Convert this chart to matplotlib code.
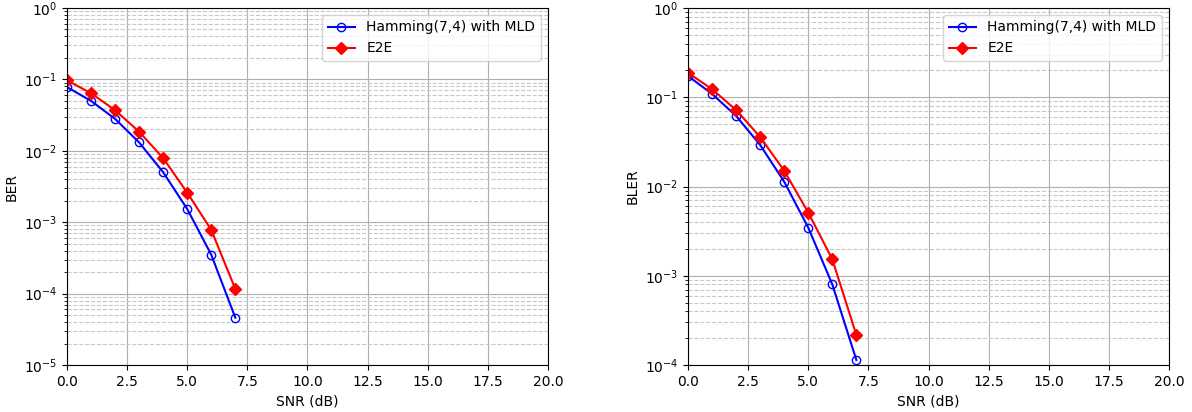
import matplotlib
matplotlib.use("Agg")
import matplotlib.pyplot as plt

snr = [0, 1, 2, 3, 4, 5, 6, 7]
ber_hamming = [0.078, 0.050, 0.028, 0.0131, 0.0050, 0.00153, 3.5e-4, 4.6e-5]
ber_e2e = [0.097, 0.064, 0.037, 0.0185, 0.0079, 0.00259, 7.8e-4, 1.16e-4]
bler_hamming = [0.173, 0.109, 0.0617, 0.0292, 0.0113, 0.00346, 8.0e-4, 1.14e-4]
bler_e2e = [0.188, 0.123, 0.072, 0.0359, 0.0150, 0.0051, 0.00153, 2.17e-4]

fig = plt.figure(figsize=(11.92, 4.12), dpi=100)
ax1 = fig.add_axes([0.0562, 0.114, 0.4035, 0.8666])
ax2 = fig.add_axes([0.5772, 0.114, 0.4035, 0.8666])

for ax, h, e, lab, ylim in [(ax1, ber_hamming, ber_e2e, "BER", (1e-5, 1)),
                            (ax2, bler_hamming, bler_e2e, "BLER", (1e-4, 1))]:
    ax.semilogy(snr, h, '-o', color='blue', fillstyle='none', linewidth=1.5,
                label='Hamming(7,4) with MLD')
    ax.semilogy(snr, e, '-D', color='red', linewidth=1.5, label='E2E')
    ax.set_xlim(0, 20)
    ax.set_ylim(*ylim)
    ax.set_xlabel('SNR (dB)')
    ax.set_ylabel(lab)
    ax.grid(True, which='major', linestyle='-', color='#b0b0b0')
    ax.grid(True, which='minor', axis='y', linestyle='--', color='#c8c8c8')
    ax.legend(loc='upper right')

fig.savefig('out.png', dpi=100)
